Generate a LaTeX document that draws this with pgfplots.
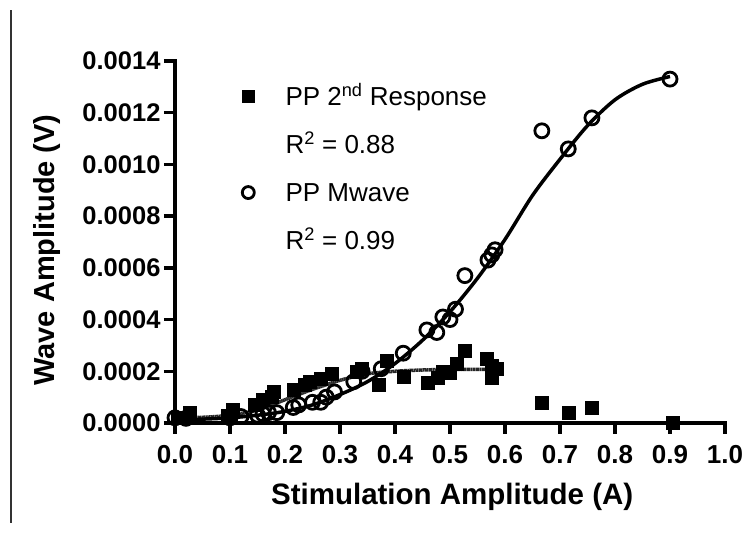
\documentclass[border=0pt]{standalone}
\usepackage{fontspec}
\setmainfont{Liberation Sans}
\usepackage{pgfplots}
\pgfplotsset{compat=1.18}
\begin{document}
\begin{tikzpicture}[x=1pt,y=1pt]
\useasboundingbox (0,0) rectangle (749,534);
\draw[line width=1.2pt, black!80] (11,11) -- (11,524);
\begin{axis}[
  at={(175pt,111pt)}, anchor=south west,
  scale only axis, width=550pt, height=362pt,
  xmin=0, xmax=1, ymin=0, ymax=0.0014,
  axis lines*=left,
  axis line style={line width=3.5pt, -, line cap=rect},
  xtick={0,0.1,0.2,0.3,0.4,0.5,0.6,0.7,0.8,0.9,1.0},
  ytick={0,0.0002,0.0004,0.0006,0.0008,0.0010,0.0012,0.0014},
  tick align=outside, major tick length=11pt,
  tick style={line width=3.5pt, black},
  scaled y ticks=false, scaled x ticks=false,
  /pgf/number format/assume math mode=true,
  x tick label style={yshift=-8pt, font=\bfseries\fontsize{26}{26}\selectfont, /pgf/number format/.cd, fixed, fixed zerofill, precision=1},
  y tick label style={font=\bfseries\fontsize{25.5}{25.5}\selectfont, /pgf/number format/.cd, fixed, fixed zerofill, precision=4},
  xlabel={Stimulation Amplitude (A)},
  ylabel={Wave Amplitude (V)},
  every axis x label/.style={at={(axis description cs:0.504,-0.204)}, anchor=center, font=\bfseries\fontsize{29.5}{29.5}\selectfont},
  every axis y label/.style={at={(axis description cs:-0.232,0.478)}, rotate=90, anchor=center, font=\bfseries\fontsize{29}{29}\selectfont},
  clip=false,
  legend cell align=left,
  legend image code/.code={\path (0pt,0pt) (45pt,0pt); \draw[#1] plot coordinates {(8pt,2.5pt)};},
  legend style={at={(axis cs:0.118,0.0013)}, anchor=north west, draw=none, fill=none, inner sep=0pt,
    row sep=24pt, column sep=0pt,
    nodes={inner sep=0pt, text height=18pt, text depth=6pt, font=\fontsize{26}{26}\selectfont}},
]
% PP 2nd Response data
\addplot[only marks, mark=square*, mark size=6.5pt, black, forget plot] coordinates {
(0.004,0.00002) (0.027,0.00004) (0.095,0.00003) (0.105,0.00005) (0.145,0.00007)
(0.16,0.00009) (0.175,0.0001) (0.18,0.00012) (0.215,0.00013) (0.235,0.00015)
(0.245,0.00016) (0.265,0.00017) (0.285,0.00019) (0.33,0.0002) (0.34,0.00021)
(0.37,0.00015) (0.385,0.00024) (0.415,0.00018) (0.46,0.000155) (0.478,0.000175)
(0.487,0.0002) (0.50,0.000195) (0.513,0.00023) (0.527,0.00028) (0.567,0.00025)
(0.576,0.00022) (0.585,0.00021) (0.576,0.000175) (0.667,0.00008) (0.715,0.00004)
(0.758,0.00006) (0.904,0.0)
};
% PP Mwave data
\addplot[only marks, mark=o, mark size=7pt, black, mark options={line width=2.8pt}, forget plot] coordinates {
(0.0,0.00002) (0.02,0.000018) (0.10,0.00002) (0.12,0.000025) (0.15,0.00003)
(0.16,0.000035) (0.17,0.00004) (0.185,0.00004) (0.215,0.00006) (0.225,0.00007)
(0.25,0.00008) (0.265,0.00008) (0.275,0.0001) (0.29,0.00012) (0.325,0.00016)
(0.34,0.0002) (0.375,0.00021) (0.415,0.00027) (0.458,0.00036) (0.476,0.00035)
(0.487,0.00041) (0.50,0.0004) (0.51,0.00044) (0.527,0.00057) (0.569,0.00063)
(0.576,0.00065) (0.582,0.00067) (0.667,0.00113) (0.715,0.00106) (0.758,0.00118)
(0.90,0.00133)
};
% fit curves
\addplot[smooth, black!85, line width=3.5pt, dash pattern=on 1.5pt off 0.4pt, forget plot] coordinates {
(0,0.00002) (0.05,0.000022) (0.1,0.00003) (0.15,0.00005) (0.2,0.00009) (0.25,0.00013)
(0.3,0.000165) (0.35,0.00019) (0.4,0.0002) (0.45,0.000205) (0.5,0.000207) (0.59,0.000208)
};
\addplot[smooth, black, line width=3.5pt, forget plot] coordinates {
(0,0.000012) (0.05,0.000015) (0.1,0.00002) (0.15,0.00003) (0.2,0.000045) (0.25,0.00007)
(0.3,0.00011) (0.35,0.00016) (0.4,0.00023) (0.45,0.00032) (0.5,0.00043) (0.55,0.00056)
(0.6,0.00071) (0.65,0.00088) (0.7,0.00102) (0.75,0.00115) (0.8,0.00125) (0.85,0.00131)
(0.9,0.00134)
};
% legend
\addlegendimage{black, mark=square*, mark size=6pt}
\addlegendentry{PP 2\textsuperscript{nd} Response}
\addlegendimage{empty legend}
\addlegendentry{R\textsuperscript{2} = 0.88}
\addlegendimage{black, mark=o, mark size=6pt, mark options={line width=2.8pt}}
\addlegendentry{PP Mwave}
\addlegendimage{empty legend}
\addlegendentry{R\textsuperscript{2} = 0.99}
\end{axis}
\end{tikzpicture}
\end{document}
